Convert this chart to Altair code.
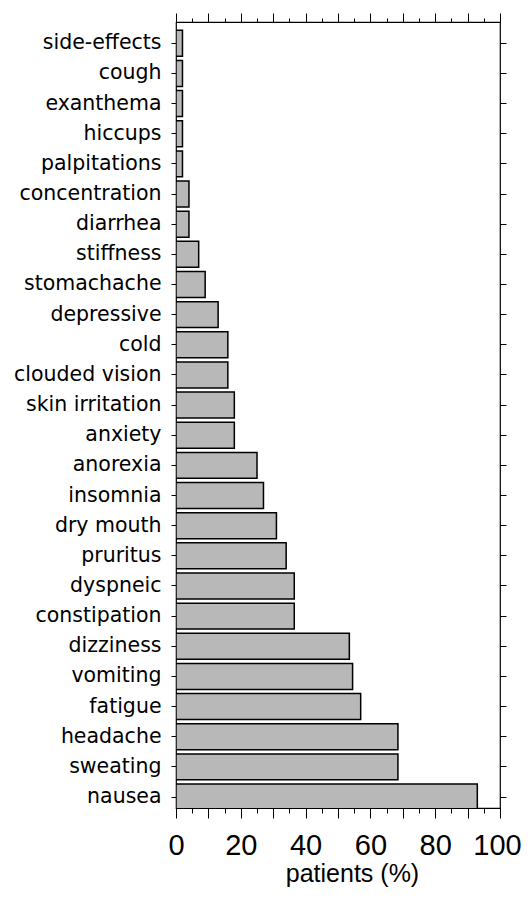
import altair as alt
import pandas as pd

categories = ["side-effects", "cough", "exanthema", "hiccups", "palpitations",
              "concentration", "diarrhea", "stiffness", "stomachache", "depressive",
              "cold", "clouded vision", "skin irritation", "anxiety", "anorexia",
              "insomnia", "dry mouth", "pruritus", "dyspneic", "constipation",
              "dizziness", "vomiting", "fatigue", "headache", "sweating", "nausea"]
values = [2, 2, 2, 2, 2, 4, 4, 7, 9, 13, 16, 16, 18, 18, 25, 27, 31, 34, 36.5, 36.5,
          53.5, 54.5, 57, 68.5, 68.5, 93]

major_ticks = list(range(0, 101, 10))
minor_ticks = list(range(5, 100, 10))

df = pd.DataFrame({"symptom": categories, "pct": values})

W, H = 324, 786
yscale = alt.Scale(domain=categories, range=[8.3, 788], paddingInner=0.14, paddingOuter=0)
xscale = alt.Scale(domain=[0, 100], nice=False, zero=True)

base = alt.Chart(df)

common_axis = dict(grid=False, domain=False, tickColor="black", tickWidth=1)

bars = base.mark_bar(fill="#b8b8b8", stroke="black", strokeWidth=1.5, clip=True).encode(
    x=alt.X("pct:Q", scale=xscale, axis=alt.Axis(
        orient="bottom", values=major_ticks, tickSize=10,
        labelExpr="datum.value % 20 == 0 ? datum.label : ''",
        labelFont="Liberation Sans", labelFontSize=29, labelColor="black",
        labelPadding=13, labelOverlap=False, labelFlush=False, format="d",
        labelOffset={"condition": {"test": "datum.value == 100", "value": -3}, "value": 0},
        title="patients (%)", titleFont="Liberation Sans", titleFontSize=25,
        titleFontWeight="normal", titleColor="black", titleX=176, titleY=53,
        **common_axis)),
    y=alt.Y("symptom:N", scale=yscale, sort=categories, axis=alt.Axis(
        orient="left", tickSize=5, labelPadding=10, labelFont="DejaVu Sans",
        labelFontSize=20.5, labelColor="black", labelLimit=0, title=None,
        **common_axis)),
)

def ghost(xaxis, yaxis):
    return base.mark_bar(opacity=0).encode(
        x=alt.X("pct:Q", scale=xscale, axis=xaxis),
        y=alt.Y("symptom:N", scale=yscale, sort=categories, axis=yaxis),
    )

bottom_minor = ghost(alt.Axis(orient="bottom", values=minor_ticks, tickSize=5,
                              labels=False, title=None, **common_axis),
                     alt.Axis(orient="right", tickSize=6, labels=False, title=None,
                              **common_axis))
top_major = ghost(alt.Axis(orient="top", values=major_ticks, tickSize=9,
                           labels=False, title=None, **common_axis), None)
top_minor = ghost(alt.Axis(orient="top", values=minor_ticks, tickSize=4,
                           labels=False, title=None, **common_axis), None)

chart = alt.layer(bars, bottom_minor, top_major, top_minor).resolve_axis(
    x="independent", y="independent"
).properties(
    width=W, height=H,
    autosize=alt.AutoSizeParams(type="none"),
    padding={"left": 168, "top": 14, "right": 22, "bottom": 82},
).configure_view(stroke="black", strokeWidth=1.2)

chart.save("out.html", embed_options={"renderer": "svg", "actions": False})
